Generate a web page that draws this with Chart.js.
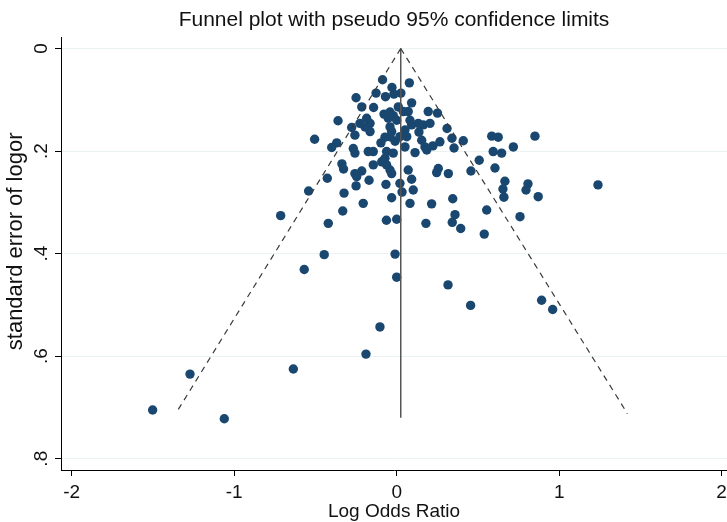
<!DOCTYPE html>
<html>
<head>
<meta charset="utf-8">
<title>Funnel plot</title>
<script src="https://cdn.jsdelivr.net/npm/chart.js@4.4.1/dist/chart.umd.min.js"></script>
<style>
  html, body { margin: 0; padding: 0; background: #fff; }
  #wrap { width: 727px; height: 522px; }
</style>
</head>
<body>
<div id="wrap"><canvas id="funnelChart" width="727" height="522"></canvas></div>
<script>
// studies: log odds ratio / standard error
const logOR = [
  -0.087, 0.078, -0.029, -0.127, -0.017, 0.026, -0.250, -0.069, 0.092, -0.215,
  -0.142, 0.010, 0.041, -0.041, -0.021, 0.071, 0.194, 0.251, -0.052, 0.000,
  0.082, -0.185, -0.226, -0.164, -0.195, -0.277, -0.361, -0.041, -0.031, 0.092,
  0.133, 0.164, 0.205, 0.051, 0.062, 0.310, -0.257, -0.164, -0.072, -0.097,
  -0.041, 0.154, 0.174, 0.223, 0.266, 0.340, 0.353, 0.410, -0.505, -0.369,
  -0.400, 0.051, 0.020, 0.585, 0.625, 0.851, 0.718, 0.594, 0.646, 0.508,
  -0.267, -0.257, -0.175, -0.144, -0.062, -0.021, -0.072, 0.113, 0.185, -0.337,
  -0.327, -0.144, -0.092, -0.062, -0.041, -0.031, -0.257, -0.215, -0.246, -0.427,
  0.071, 0.092, 0.256, 0.246, 0.318, 0.457, 0.605, 0.666, 0.654, 0.660,
  0.808, 0.796, -0.170, 0.020, 0.033, 0.102, -0.031, -0.066, -0.250, -0.324,
  -0.542, 0.871, 0.082, -0.206, 0.215, 0.345, 0.554, 0.759, 0.359, 0.342,
  0.394, 0.180, 0.000, -0.063, 0.539, -0.332, -0.421, -0.714, -0.010, -0.446,
  -0.569, 0.000, 0.316, 0.455, 0.892, 0.960, -0.103, -0.189, -0.636, -1.272,
  -1.502, -1.061, 1.239, 0.137, -0.078, -0.010
];
const seLogOR = [
  0.061, 0.067, 0.076, 0.087, 0.089, 0.087, 0.096, 0.094, 0.106, 0.114,
  0.115, 0.114, 0.123, 0.124, 0.131, 0.123, 0.123, 0.126, 0.136, 0.140,
  0.140, 0.136, 0.146, 0.146, 0.153, 0.154, 0.141, 0.153, 0.162, 0.149,
  0.146, 0.149, 0.146, 0.159, 0.172, 0.156, 0.169, 0.162, 0.173, 0.184,
  0.172, 0.179, 0.192, 0.190, 0.182, 0.175, 0.194, 0.180, 0.177, 0.184,
  0.193, 0.192, 0.172, 0.171, 0.173, 0.171, 0.192, 0.201, 0.204, 0.218,
  0.195, 0.204, 0.201, 0.201, 0.201, 0.204, 0.214, 0.203, 0.198, 0.225,
  0.235, 0.227, 0.221, 0.227, 0.237, 0.244, 0.244, 0.239, 0.250, 0.253,
  0.237, 0.255, 0.234, 0.242, 0.244, 0.239, 0.233, 0.259, 0.274, 0.290,
  0.264, 0.276, 0.257, 0.263, 0.280, 0.276, 0.291, 0.265, 0.268, 0.282,
  0.278, 0.289, 0.302, 0.302, 0.303, 0.293, 0.315, 0.328, 0.324, 0.339,
  0.351, 0.341, 0.333, 0.335, 0.362, 0.317, 0.341, 0.326, 0.401, 0.402,
  0.431, 0.446, 0.461, 0.501, 0.491, 0.509, 0.543, 0.596, 0.625, 0.635,
  0.705, 0.722, 0.266, 0.163, 0.128, 0.181
];

// pseudo 95% limits and the pooled-effect line (end points)
const limitSE = [0, 0.712];
const lowerLimitX = [0.025, -1.36];
const upperLimitX = [0.025, 1.42];
const centreSE = [0, 0.72];
const centreX = [0.025, 0.025];

// axes
const xTickValues = [-2, -1, 0, 1, 2];
const yTickValues = [0, 0.2, 0.4, 0.6, 0.8];
const yTickLabels = ['0', '.2', '.4', '.6', '.8'];

const FONT = "'Liberation Sans', Arial, sans-serif";
const MARKER = '#1a476f';

function toPoints(xs, ys) {
    return xs.map((x, i) => ({ x: x, y: ys[i] }));
}

const ctx = document.getElementById('funnelChart').getContext('2d');
new Chart(ctx, {
    type: 'scatter',
    data: {
        datasets: [
            {
                label: 'lower limit',
                data: toPoints(lowerLimitX, limitSE),
                showLine: true,
                borderColor: '#3a3a3a',
                borderWidth: 1.2,
                borderDash: [6, 5],
                pointRadius: 0
            },
            {
                label: 'upper limit',
                data: toPoints(upperLimitX, limitSE),
                showLine: true,
                borderColor: '#3a3a3a',
                borderWidth: 1.2,
                borderDash: [6, 5],
                pointRadius: 0
            },
            {
                label: 'pooled',
                data: toPoints(centreX, centreSE),
                showLine: true,
                borderColor: '#555',
                borderWidth: 1.5,
                pointRadius: 0
            },
            {
                label: 'studies',
                data: toPoints(logOR, seLogOR),
                backgroundColor: MARKER,
                borderWidth: 0,
                pointRadius: 4.7
            }
        ]
    },
    options: {
        responsive: false,
        animation: false,
        layout: { padding: 0, autoPadding: false },
        plugins: {
            legend: { display: false },
            tooltip: { enabled: false },
            title: {
                display: true,
                text: 'Funnel plot with pseudo 95% confidence limits',
                fullSize: false,
                color: '#111',
                font: { family: FONT, size: 21, weight: 'normal' },
                padding: { top: 8, bottom: 4 }
            }
        },
        scales: {
            x: {
                type: 'linear',
                position: 'bottom',
                min: -2.066,
                max: 2.033,
                afterBuildTicks: function(scale) {
                    scale.ticks = xTickValues.map(v => ({ value: v }));
                },
                afterFit: function(scale) {
                    scale.height = 52;
                    scale.paddingLeft = 0;
                    scale.paddingRight = 0;
                },
                ticks: {
                    color: '#111',
                    font: { family: FONT, size: 19 },
                    padding: 5,
                    callback: v => String(v)
                },
                grid: {
                    drawOnChartArea: false,
                    tickLength: 6,
                    tickColor: '#000'
                },
                border: { color: '#000', width: 1 },
                title: {
                    display: true,
                    text: 'Log Odds Ratio',
                    color: '#111',
                    font: { family: FONT, size: 19, lineHeight: 1 },
                    padding: { top: 0, bottom: 1 }
                }
            },
            y: {
                type: 'linear',
                reverse: true,
                min: -0.022,
                max: 0.822,
                afterBuildTicks: function(scale) {
                    scale.ticks = yTickValues.map(v => ({ value: v }));
                },
                afterFit: function(scale) {
                    scale.width = 61;
                },
                ticks: {
                    color: '#111',
                    font: { family: FONT, size: 19 },
                    minRotation: 90,
                    maxRotation: 90,
                    crossAlign: 'center',
                    padding: 5,
                    callback: (v, i) => yTickLabels[i]
                },
                grid: {
                    color: 'rgb(234,242,243)',
                    tickColor: '#000',
                    tickLength: 6
                },
                border: { color: '#000', width: 1 },
                title: {
                    display: true,
                    // leading spaces lift the text a little, as in the original
                    text: '\u00a0\u00a0\u00a0\u00a0standard error of logor',
                    color: '#111',
                    font: { family: FONT, size: 22, lineHeight: 1 },
                    padding: { top: 5, bottom: 0 }
                }
            }
        }
    }
});
</script>
</body>
</html>
